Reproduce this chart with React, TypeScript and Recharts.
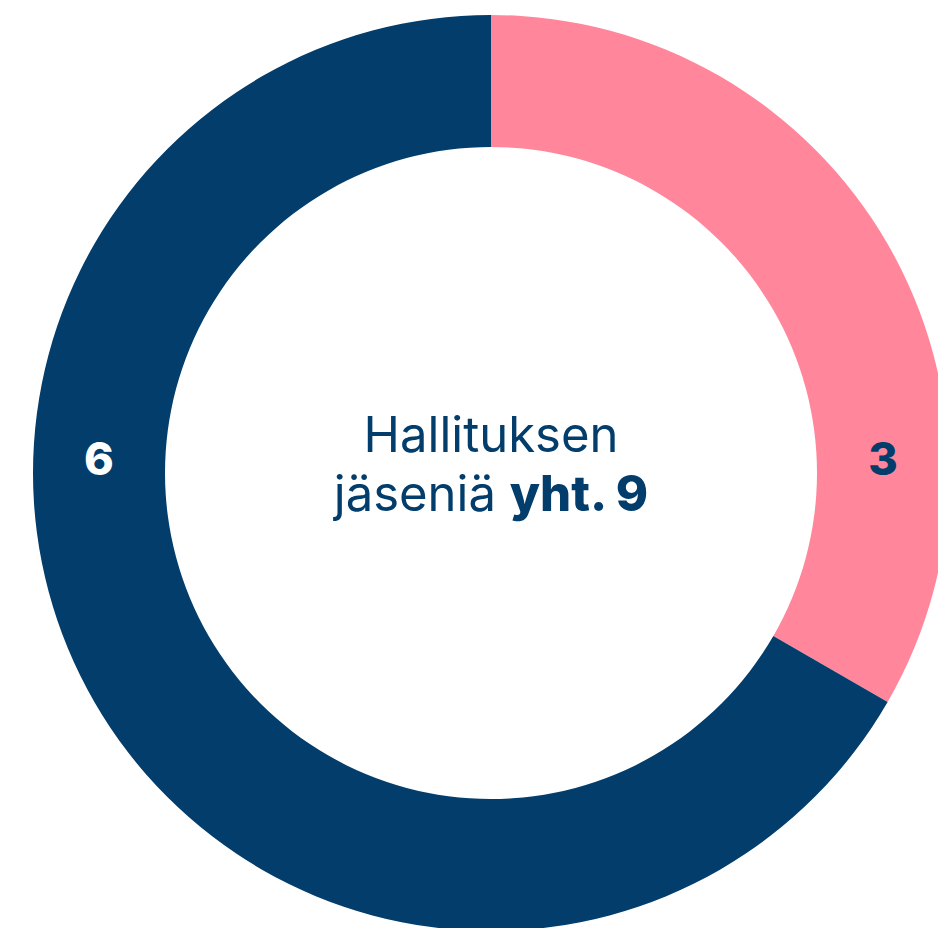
import { PieChart, Pie, Cell } from "recharts";

const groups = ["Naiset", "Miehet"];
const members = [3, 6];
const colors = ["#FF869B", "#023D6B"];
const labelColors = ["#023D6B", "#FFFFFF"];
const titleLine1 = "Hallituksen";
const titleLine2 = "jäseniä";
const titleBold = "yht. 9";

const data = groups.map((g, i) => ({ name: g, value: members[i] }));

const FONT = "Inter, 'Noto Sans', sans-serif";

const renderLabel = (props: any) => {
  const { cx, cy, innerRadius, outerRadius, index, value } = props;
  const r = (innerRadius + outerRadius) / 2;
  // labels sit on the horizontal axis: right for the first slice, left for the second
  const x = index === 0 ? cx + r : cx - r;
  return (
    <text
      x={x}
      y={cy - 15}
      fill={labelColors[index]}
      textAnchor="middle"
      dominantBaseline="central"
      fontFamily={FONT}
      fontWeight={800}
      fontSize={45}
    >
      {value}
    </text>
  );
};

export default function App() {
  return (
    <div style={{ position: "absolute", left: 0, top: 0 }}>
      <PieChart width={938} height={928} margin={{ top: 0, right: 0, bottom: 0, left: 0 }}>
        <Pie
          data={data}
          dataKey="value"
          cx={491}
          cy={473}
          innerRadius={326}
          outerRadius={458}
          startAngle={90}
          endAngle={-270}
          stroke="none"
          label={renderLabel}
          labelLine={false}
          isAnimationActive={false}
        >
          {data.map((d, i) => (
            <Cell key={d.name} fill={colors[i]} />
          ))}
        </Pie>
        <text
          x={491}
          y={452}
          textAnchor="middle"
          fill="#023D6B"
          fontFamily={FONT}
          fontSize={49}
          fontWeight={400}
        >
          {titleLine1}
        </text>
        <text
          x={491}
          y={511}
          textAnchor="middle"
          fill="#023D6B"
          fontFamily={FONT}
          fontSize={49}
          fontWeight={400}
        >
          {titleLine2} <tspan fontWeight={800}>{titleBold}</tspan>
        </text>
      </PieChart>
    </div>
  );
}
